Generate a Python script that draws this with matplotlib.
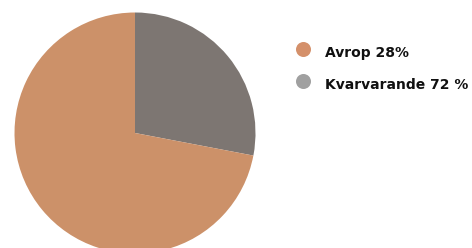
import matplotlib
matplotlib.use("Agg")
import matplotlib.pyplot as plt

labels = ["Avrop 28%", "Kvarvarande 72 %"]
values = [28, 72]
slice_colors = ["#7d7672", "#cc9169"]
legend_colors = ["#d4906a", "#a0a0a0"]

W, H = 472, 248
fig = plt.figure(figsize=(W / 100, H / 100), dpi=100)

# pie axes placed in pixels: center (135, 133), radius ~120.5
cx, cy, r = 135, 133, 120.5
ax = fig.add_axes([(cx - r) / W, (H - cy - r) / H, 2 * r / W, 2 * r / H])
ax.pie(values, colors=slice_colors, startangle=90, counterclock=False,
       radius=1, wedgeprops=dict(linewidth=0))
ax.set_xlim(-1, 1)
ax.set_ylim(-1, 1)
ax.axis("off")

# legend drawn by hand
lax = fig.add_axes([0, 0, 1, 1])
lax.set_xlim(0, W)
lax.set_ylim(H, 0)
lax.axis("off")
ys = [50, 82]
for lab, c, y in zip(labels, legend_colors, ys):
    lax.plot(303, y - 1, "o", ms=10.8, color=c, mec="none")
    lax.text(325, y + 3, lab, fontsize=10, fontweight="bold", color="#111111",
             va="center", ha="left")

fig.savefig("out.png", dpi=100)
